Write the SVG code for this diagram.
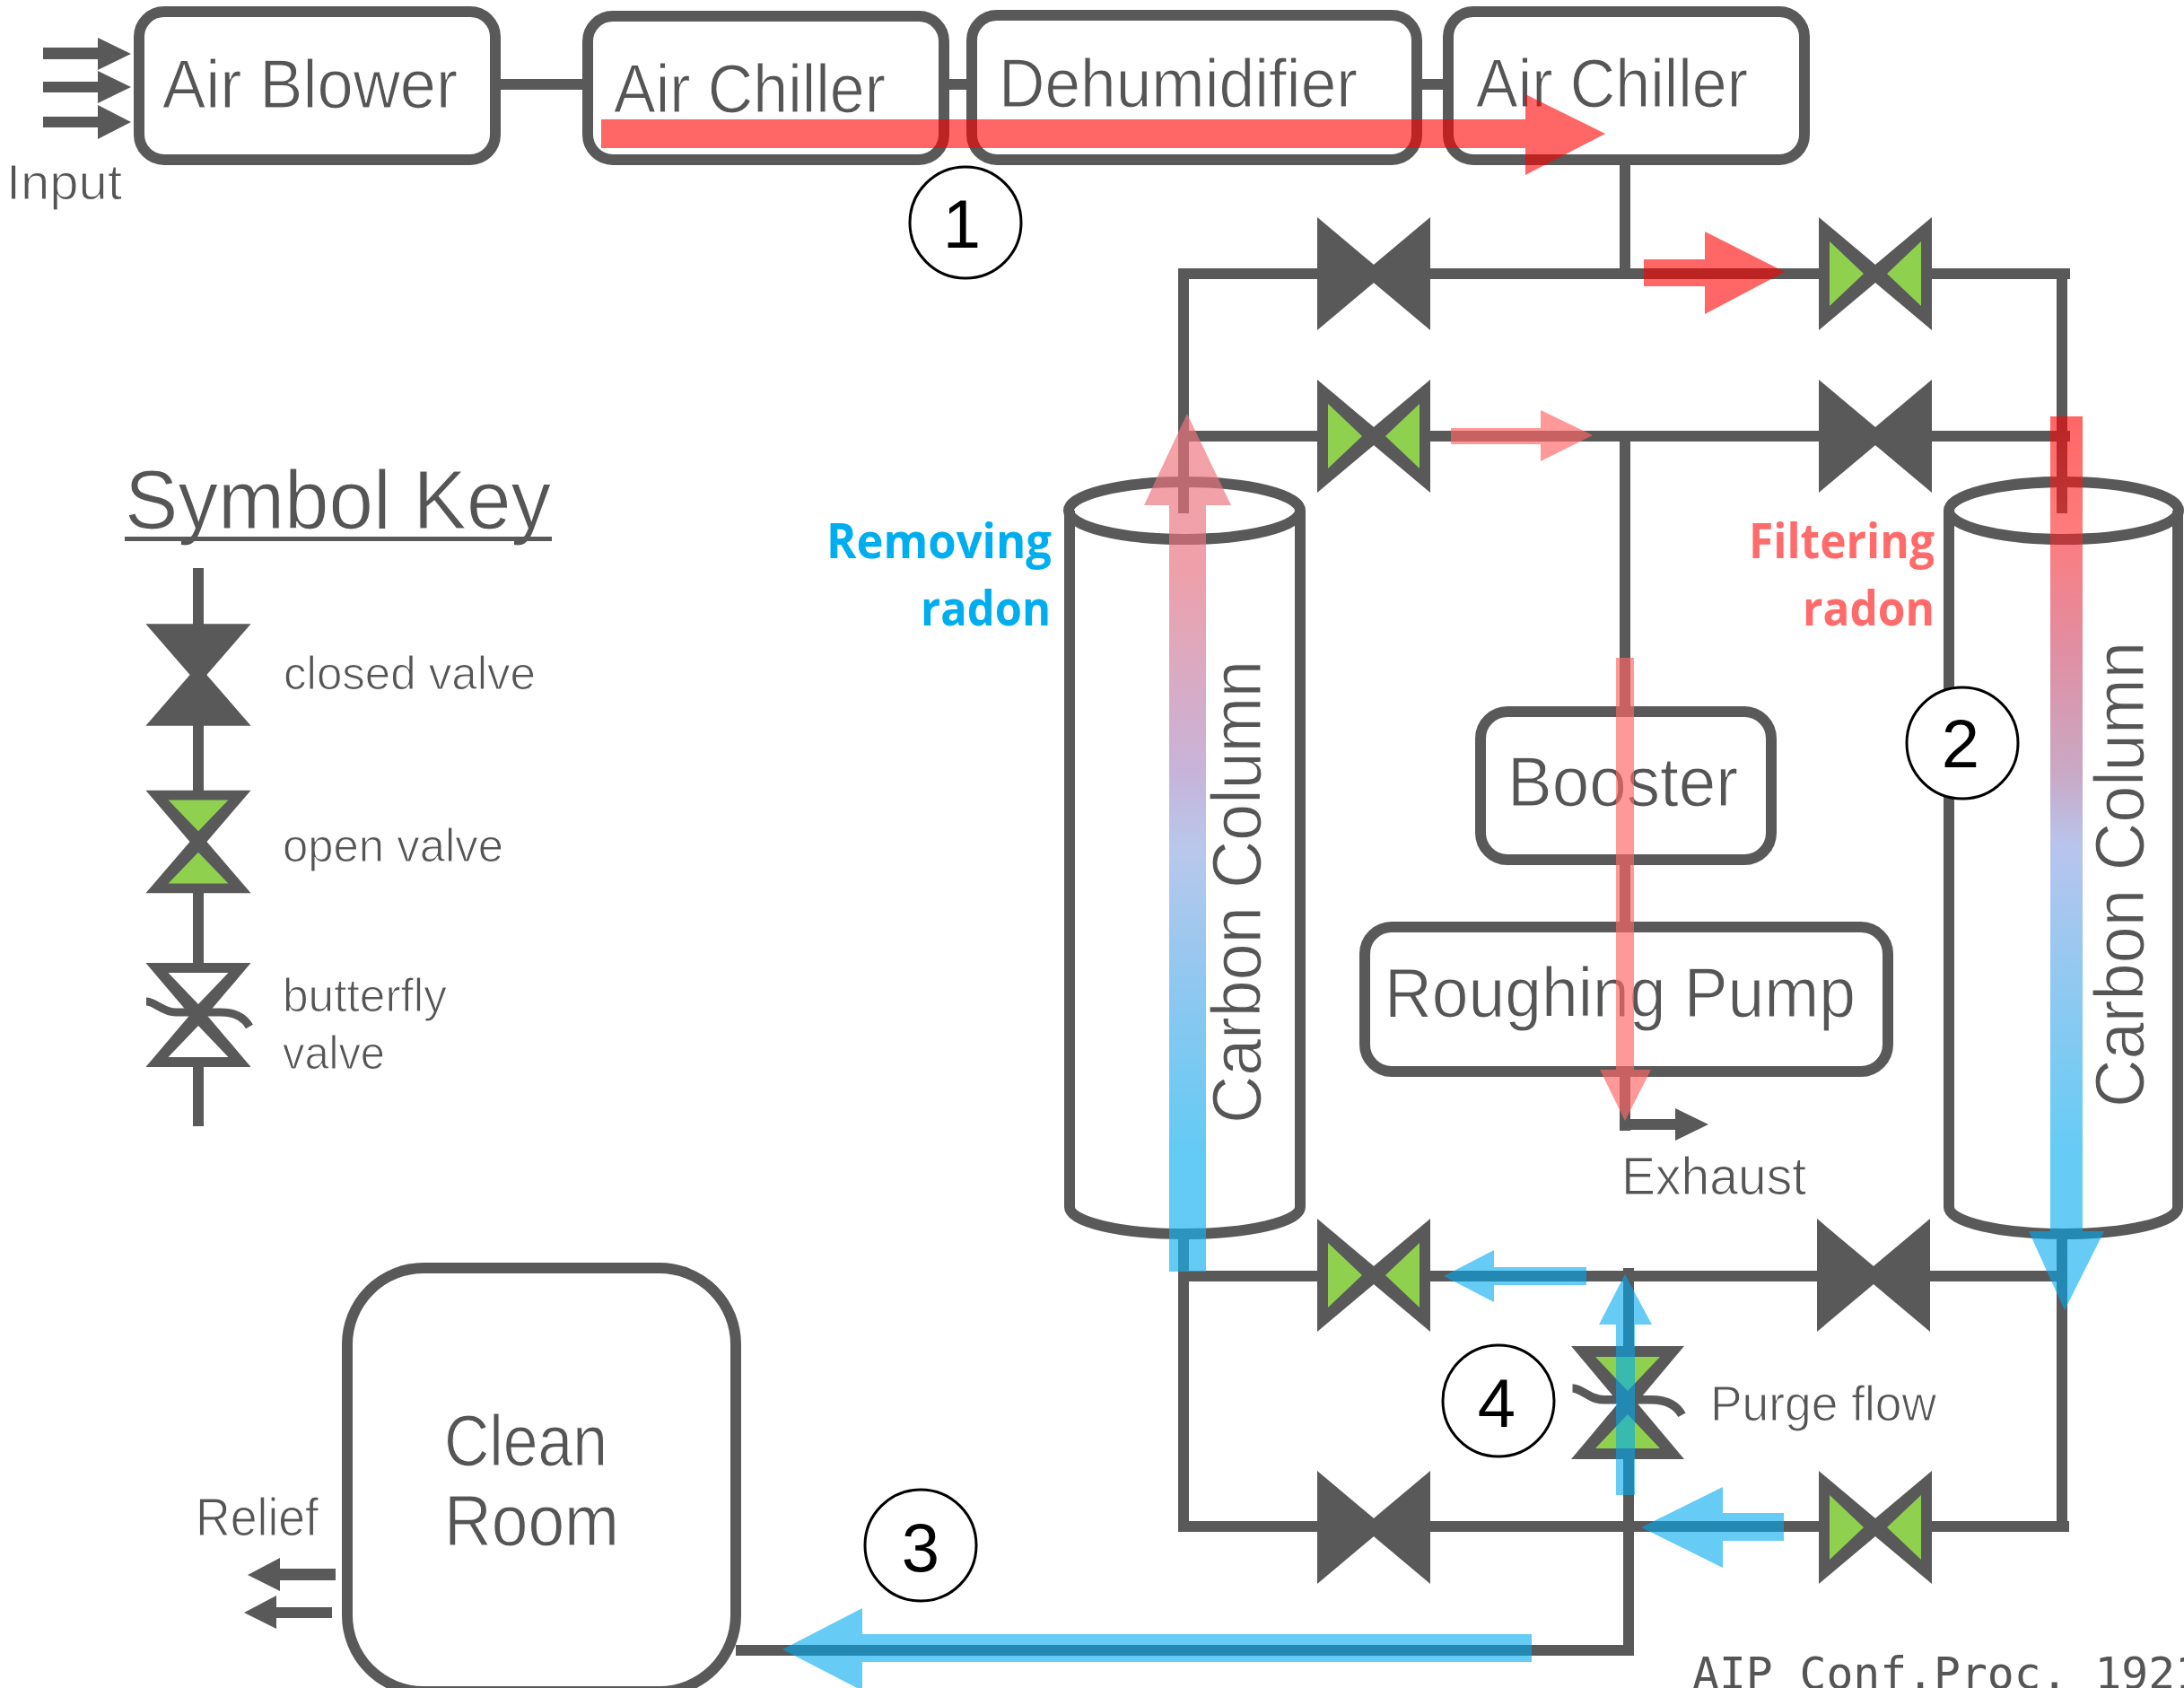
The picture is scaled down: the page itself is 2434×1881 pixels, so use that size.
<svg xmlns="http://www.w3.org/2000/svg" width="2434" height="1881" viewBox="0 0 2434 1881">
<style>
.t{font-family:"Liberation Sans",Arial,sans-serif;fill:#555;stroke:#fff;stroke-width:1.1;paint-order:normal}
.b{fill:#fff;stroke:#595959;stroke-width:12}
.p{fill:none;stroke:#595959;stroke-width:12}
.d{fill:#595959}
.g{fill:#8fd14f}
.w{fill:#fff}
.o{fill:#fff;stroke:#000;stroke-width:3}
.n{font-family:"Liberation Sans",Arial,sans-serif;font-size:76px;fill:#000;text-anchor:middle}
.r{fill:#f00;fill-opacity:.6}
.k{fill:#f66;fill-opacity:.67}
.c{fill:#0ae;fill-opacity:.6}
.h{font-family:"Open Sans","Noto Sans",sans-serif;font-weight:700;font-size:54px}
</style>
<defs>
<g id="vc"><polygon class="d" points="-63,-63 12,0 -63,63"/><polygon class="d" points="63,-63 -12,0 63,63"/></g>
<g id="vo"><use href="#vc"/><polygon class="g" points="-51,-36 -13,0 -51,36"/><polygon class="g" points="51,-36 13,0 51,36"/></g>
<g id="vb"><use href="#vc"/><polygon class="w" points="-51,-36 -13,0 -51,36"/><polygon class="w" points="51,-36 13,0 51,36"/></g>
<path id="tilde" fill="none" stroke="#595959" stroke-width="9" d="M-58,-15C-48,-15 -40,-3 -25,-3L25,-3C42,-3 52,4 57,13"/>
<linearGradient id="gl" gradientUnits="userSpaceOnUse" x1="0" y1="461" x2="0" y2="1417">
<stop offset="0" stop-color="#f1747c" stop-opacity=".67"/>
<stop offset=".18" stop-color="#e6717f" stop-opacity=".67"/>
<stop offset=".42" stop-color="#ab8fc8" stop-opacity=".67"/>
<stop offset=".51" stop-color="#95ade2" stop-opacity=".67"/>
<stop offset=".67" stop-color="#56ace9" stop-opacity=".67"/>
<stop offset=".86" stop-color="#16b1ee" stop-opacity=".67"/>
<stop offset="1" stop-color="#16b1ee" stop-opacity=".67"/>
</linearGradient>
<linearGradient id="gr" gradientUnits="userSpaceOnUse" x1="0" y1="464" x2="0" y2="1460">
<stop offset="0" stop-color="#f00" stop-opacity=".6"/>
<stop offset=".12" stop-color="#f22" stop-opacity=".6"/>
<stop offset=".25" stop-color="#d04060" stop-opacity=".6"/>
<stop offset=".4" stop-color="#a5709f" stop-opacity=".6"/>
<stop offset=".48" stop-color="#8a9de2" stop-opacity=".6"/>
<stop offset=".64" stop-color="#44a5e7" stop-opacity=".6"/>
<stop offset=".82" stop-color="#00aaee" stop-opacity=".6"/>
<stop offset="1" stop-color="#00aaee" stop-opacity=".6"/>
</linearGradient>
</defs>
<rect width="2434" height="1881" fill="#fff"/>

<g id="connectors">
<path class="p" d="M558,94H649M1058,94H1077M1585,94H1608"/>
<path class="p" d="M1811,184V305M1313,305H2307M1319,305V572M2298,305V572M1319,486H2307M1811,486V1260"/>
<path class="p" d="M1319,1381V1701M2298,1381V1707M1313,1422H2304M1313,1701H2306M1815,1413V1845M820,1839H1821"/>
<path class="p" d="M221,633V1255"/>
<polygon class="d" points="48,53 109,53 109,42 146,60 109,78 109,66 48,66"/>
<polygon class="d" points="48,91 109,91 109,79 146,97 109,115 109,103 48,103"/>
<polygon class="d" points="48,130 109,130 109,117 146,136 109,155 109,142 48,142"/>
<polygon class="d" points="374,1748 312,1748 312,1736 276,1755 312,1773 312,1761 374,1761"/>
<polygon class="d" points="370,1791 308,1791 308,1778 272,1797 308,1815 308,1803 370,1803"/>
<polygon class="d" points="1811,1247 1867,1247 1867,1235 1904,1253 1867,1271 1867,1259 1811,1259"/>
</g>

<g id="air-blower"><rect class="b" x="155" y="13" width="397" height="165" rx="28"/><text class="t" x="181" y="120" font-size="76" textLength="329" lengthAdjust="spacingAndGlyphs">Air Blower</text></g>
<g id="air-chiller-1"><rect class="b" x="655" y="18" width="397" height="160" rx="28"/><text class="t" x="684" y="125" font-size="76" textLength="303" lengthAdjust="spacingAndGlyphs">Air Chiller</text></g>
<g id="dehumidifier"><rect class="b" x="1083" y="17" width="496" height="161" rx="28"/><text class="t" x="1113" y="119" font-size="76" textLength="400" lengthAdjust="spacingAndGlyphs">Dehumidifier</text></g>
<g id="air-chiller-2"><rect class="b" x="1614" y="13" width="397" height="165" rx="28"/><text class="t" x="1645" y="119" font-size="76" textLength="303" lengthAdjust="spacingAndGlyphs">Air Chiller</text></g>
<g id="input-label"><text class="t" x="7" y="222" font-size="56" textLength="129" lengthAdjust="spacingAndGlyphs">Input</text></g>

<g id="carbon-column-left"><path class="p" d="M1192,569V1345C1192,1362 1250,1375 1320,1375S1449,1362 1449,1345V569"/><ellipse class="p" cx="1320" cy="569" rx="129" ry="32"/><text class="t" transform="translate(1405,1252) rotate(-90)" font-size="78" textLength="516" lengthAdjust="spacingAndGlyphs">Carbon Column</text></g>
<g id="carbon-column-right"><path class="p" d="M2172,569V1345C2172,1362 2230,1375 2300,1375S2427,1362 2427,1345V569"/><ellipse class="p" cx="2300" cy="569" rx="128" ry="32"/><text class="t" transform="translate(2389,1234) rotate(-90)" font-size="78" textLength="519" lengthAdjust="spacingAndGlyphs">Carbon Column</text></g>
<g id="removing-radon" fill="#00aeef"><text class="h" x="921" y="622" textLength="251" lengthAdjust="spacingAndGlyphs">Removing</text><text class="h" x="1026" y="697" textLength="145" lengthAdjust="spacingAndGlyphs">radon</text></g>
<g id="filtering-radon" fill="#ff6b6b"><text class="h" x="1949" y="622" textLength="207" lengthAdjust="spacingAndGlyphs">Filtering</text><text class="h" x="2009" y="697" textLength="147" lengthAdjust="spacingAndGlyphs">radon</text></g>

<g id="booster"><rect class="b" x="1650" y="793" width="324" height="165" rx="30"/><text class="t" x="1680" y="898" font-size="78" textLength="257" lengthAdjust="spacingAndGlyphs">Booster</text></g>
<g id="roughing-pump"><rect class="b" x="1521" y="1033" width="583" height="161" rx="30"/><text class="t" x="1543" y="1133" font-size="78" textLength="525" lengthAdjust="spacingAndGlyphs">Roughing Pump</text></g>
<g id="exhaust-label"><text class="t" x="1807" y="1331" font-size="59" textLength="206" lengthAdjust="spacingAndGlyphs">Exhaust</text></g>
<g id="clean-room"><rect class="b" x="387" y="1413" width="433" height="472" rx="85"/><text class="t" x="495" y="1633" font-size="79" textLength="182" lengthAdjust="spacingAndGlyphs">Clean</text><text class="t" x="495" y="1722" font-size="79" textLength="195" lengthAdjust="spacingAndGlyphs">Room</text></g>
<g id="relief-label"><text class="t" x="218" y="1711" font-size="59" textLength="137" lengthAdjust="spacingAndGlyphs">Relief</text></g>

<g id="valve-top-left"><use href="#vc" x="1531" y="305"/></g>
<g id="valve-top-right"><use href="#vo" x="2090" y="305"/></g>
<g id="valve-second-left"><use href="#vo" x="1531" y="486"/></g>
<g id="valve-second-right"><use href="#vc" x="2090" y="486"/></g>
<g id="valve-third-left"><use href="#vo" x="1531" y="1421"/></g>
<g id="valve-third-right"><use href="#vc" x="2088" y="1421"/></g>
<g id="valve-fourth-left"><use href="#vc" x="1531" y="1702"/></g>
<g id="valve-fourth-right"><use href="#vo" x="2090" y="1702"/></g>
<g id="valve-purge" transform="translate(1814,1563)"><use href="#vo" transform="rotate(90)"/><use href="#tilde" transform="scale(1.06)"/></g>
<g id="purge-label"><text class="t" x="1906" y="1583" font-size="56" textLength="252" lengthAdjust="spacingAndGlyphs">Purge flow</text></g>

<g id="symbol-key"><text class="t" x="139" y="589" font-size="92" textLength="475" lengthAdjust="spacingAndGlyphs">Symbol Key</text><rect class="d" x="139" y="598" width="476" height="5"/></g>
<g id="key-closed"><use href="#vc" transform="translate(221,752) rotate(90) scale(.9,.93)"/><text class="t" x="316" y="768" font-size="52" textLength="281" lengthAdjust="spacingAndGlyphs">closed valve</text></g>
<g id="key-open"><use href="#vo" transform="translate(221,938) rotate(90) scale(.91,.93)"/><text class="t" x="315" y="960" font-size="52" textLength="246" lengthAdjust="spacingAndGlyphs">open valve</text></g>
<g id="key-butterfly"><g transform="translate(221,1131)"><use href="#vb" transform="rotate(90) scale(.92,.93)"/><use href="#tilde"/></g><text class="t" x="315" y="1127" font-size="52" textLength="183" lengthAdjust="spacingAndGlyphs">butterfly</text><text class="t" x="315" y="1191" font-size="52" textLength="114" lengthAdjust="spacingAndGlyphs">valve</text></g>

<g id="flows">
<polygon class="r" points="670,133 1700,133 1700,105 1789,149 1700,195 1700,165 670,165"/>
<polygon class="r" points="1832,289 1900,289 1900,258 1989,303 1900,350 1900,319 1832,319"/>
<polygon class="k" points="1617,477 1717,477 1717,457 1775,485 1717,514 1717,495 1617,495"/>
<polygon class="k" points="1801,733 1821,733 1821,1192 1840,1192 1811,1249 1783,1192 1801,1192"/>
<polygon fill="url(#gl)" points="1303,1417 1303,563 1275,563 1323,461 1372,563 1344,563 1344,1417"/>
<polygon fill="url(#gr)" points="2285,464 2321,464 2321,1372 2345,1372 2301,1460 2261,1372 2285,1372"/>
<polygon class="c" points="1768,1412 1665,1412 1665,1393 1609,1422 1665,1451 1665,1432 1768,1432"/>
<polygon class="c" points="1801,1666 1801,1476 1782,1476 1811,1420 1841,1476 1822,1476 1822,1666"/>
<polygon class="c" points="1988,1686 1920,1686 1920,1657 1829,1702 1920,1747 1920,1717 1988,1717"/>
<polygon class="c" points="1707,1821 961,1821 961,1792 872,1838 961,1884 961,1852 1707,1852"/>
</g>

<g id="step-1"><circle class="o" cx="1076" cy="248" r="62"/><text class="n" x="1072" y="276">1</text></g>
<g id="step-2"><circle class="o" cx="2187" cy="828" r="62"/><text class="n" x="2185" y="855">2</text></g>
<g id="step-3"><circle class="o" cx="1026" cy="1722" r="62"/><text class="n" x="1026" y="1751">3</text></g>
<g id="step-4"><circle class="o" cx="1670" cy="1561" r="62"/><text class="n" x="1668" y="1590">4</text></g>
<g id="citation"><text x="1886" y="1882" font-family="'DejaVu Sans Mono','Liberation Mono',monospace" font-size="50" fill="#555" textLength="568" lengthAdjust="spacingAndGlyphs">AIP Conf.Proc. 1921</text></g>
</svg>
